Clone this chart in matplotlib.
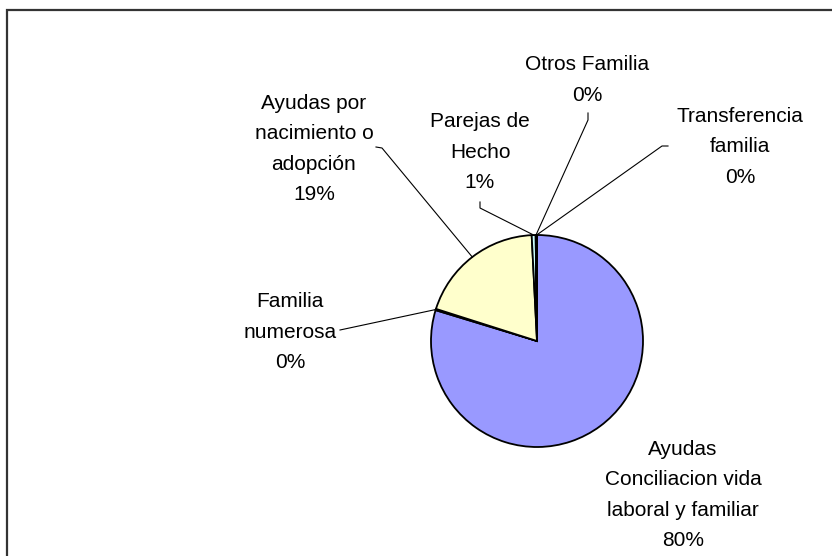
import matplotlib
matplotlib.use("Agg")
import matplotlib.pyplot as plt
import numpy as np
from matplotlib.patches import Rectangle

plt.rcParams['font.family'] = ['Liberation Sans', 'DejaVu Sans']

# datos
categorias = ['Ayudas\nConciliacion vida\nlaboral y familiar', 'Familia\nnumerosa',
              'Ayudas por\nnacimiento o\nadopción', 'Parejas de\nHecho',
              'Otros Familia', 'Transferencia\nfamilia']
valores = [79.7, 0.2, 19.3, 0.6, 0.1, 0.1]
colores = ['#9999FF', '#993366', '#FFFFCC', '#CCFFFF', '#660066', '#FF8080']

W, H = 832, 556
fig = plt.figure(figsize=(W / 100, H / 100), dpi=100)
ax = fig.add_axes([0, 0, 1, 1])

cx, cy, r = 537, H - 341, 106
wedges, _ = ax.pie(valores, colors=colores, startangle=90, counterclock=False,
                   center=(cx, cy), radius=r,
                   wedgeprops=dict(edgecolor='black', linewidth=1.3))
ax.set_xlim(0, W)
ax.set_ylim(0, H)
ax.set_aspect('equal')
ax.axis('off')

total = sum(valores)
# posicion de etiquetas (pixeles, y desde arriba) y trazo de guia
label_pos = [(683, 495), (290, 332), (314, 149), (480, 152), (587, 80), (740, 147)]
guias = [None,
         [(340, 330)],
         [(376, 147), (382, 148)],
         [(480, 202), (480, 208)],
         [(588, 113), (588, 120)],
         [(668, 146), (662, 146)]]

for w, nombre, v, (lx, ly), g in zip(wedges, categorias, valores, label_pos, guias):
    pct = f"{round(v / total * 100):.0f}%"
    ax.text(lx, H - ly, nombre + '\n' + pct, ha='center', va='center',
            fontsize=15, linespacing=1.75, color='black')
    if g is None:
        continue
    ang = np.deg2rad((w.theta1 + w.theta2) / 2)
    px, py = cx + r * np.cos(ang), cy + r * np.sin(ang)
    xs = [p[0] for p in g] + [px]
    ys = [H - p[1] for p in g] + [py]
    ax.plot(xs, ys, color='black', linewidth=0.8)

# marco del grafico
fig.patches.append(Rectangle((7 / W, 0 - 0.01), 1.1, (H - 10) / H + 0.01,
                             transform=fig.transFigure, fill=False,
                             edgecolor='#333333', linewidth=1.6))

fig.savefig('out.png', dpi=100)
